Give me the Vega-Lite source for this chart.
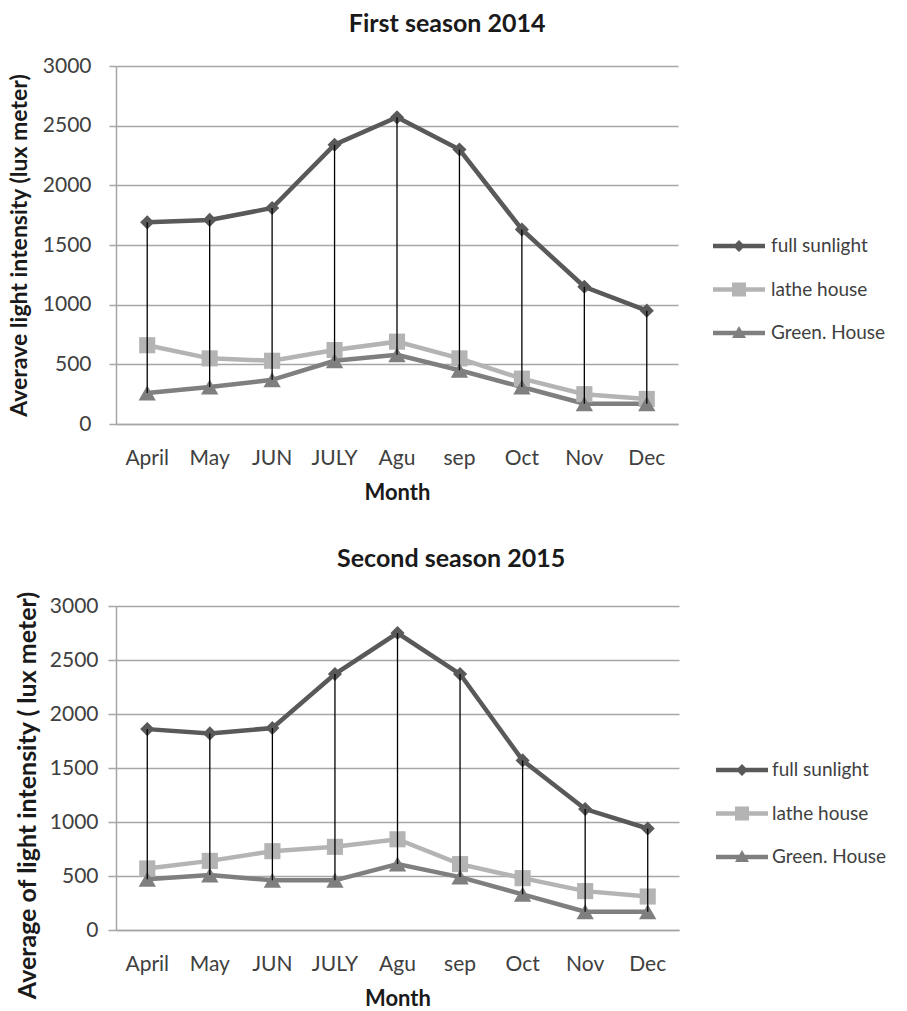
{
  "$schema": "https://vega.github.io/schema/vega-lite/v6.json",
  "padding": {"left": 8, "top": 12, "right": 5, "bottom": 1},
  "background": "white",
  "config": {
    "font": "Lato",
    "view": {"stroke": null},
    "axis": {"labelFont": "Lato", "titleFont": "Lato"},
    "title": {"font": "Lato"}
  },
  "data": {"values": [
    {"season": "2014", "month": "April", "series": "full sunlight", "value": 1690},
    {"season": "2014", "month": "May", "series": "full sunlight", "value": 1710},
    {"season": "2014", "month": "JUN", "series": "full sunlight", "value": 1810},
    {"season": "2014", "month": "JULY", "series": "full sunlight", "value": 2340},
    {"season": "2014", "month": "Agu", "series": "full sunlight", "value": 2570},
    {"season": "2014", "month": "sep", "series": "full sunlight", "value": 2300},
    {"season": "2014", "month": "Oct", "series": "full sunlight", "value": 1630},
    {"season": "2014", "month": "Nov", "series": "full sunlight", "value": 1150},
    {"season": "2014", "month": "Dec", "series": "full sunlight", "value": 950},
    {"season": "2014", "month": "April", "series": "lathe house", "value": 660},
    {"season": "2014", "month": "May", "series": "lathe house", "value": 550},
    {"season": "2014", "month": "JUN", "series": "lathe house", "value": 530},
    {"season": "2014", "month": "JULY", "series": "lathe house", "value": 620},
    {"season": "2014", "month": "Agu", "series": "lathe house", "value": 690},
    {"season": "2014", "month": "sep", "series": "lathe house", "value": 550},
    {"season": "2014", "month": "Oct", "series": "lathe house", "value": 380},
    {"season": "2014", "month": "Nov", "series": "lathe house", "value": 250},
    {"season": "2014", "month": "Dec", "series": "lathe house", "value": 210},
    {"season": "2014", "month": "April", "series": "Green. House", "value": 260},
    {"season": "2014", "month": "May", "series": "Green. House", "value": 310},
    {"season": "2014", "month": "JUN", "series": "Green. House", "value": 370},
    {"season": "2014", "month": "JULY", "series": "Green. House", "value": 530},
    {"season": "2014", "month": "Agu", "series": "Green. House", "value": 580},
    {"season": "2014", "month": "sep", "series": "Green. House", "value": 450},
    {"season": "2014", "month": "Oct", "series": "Green. House", "value": 310},
    {"season": "2014", "month": "Nov", "series": "Green. House", "value": 170},
    {"season": "2014", "month": "Dec", "series": "Green. House", "value": 170},
    {"season": "2015", "month": "April", "series": "full sunlight", "value": 1860},
    {"season": "2015", "month": "May", "series": "full sunlight", "value": 1820},
    {"season": "2015", "month": "JUN", "series": "full sunlight", "value": 1870},
    {"season": "2015", "month": "JULY", "series": "full sunlight", "value": 2370},
    {"season": "2015", "month": "Agu", "series": "full sunlight", "value": 2750},
    {"season": "2015", "month": "sep", "series": "full sunlight", "value": 2370},
    {"season": "2015", "month": "Oct", "series": "full sunlight", "value": 1570},
    {"season": "2015", "month": "Nov", "series": "full sunlight", "value": 1120},
    {"season": "2015", "month": "Dec", "series": "full sunlight", "value": 940},
    {"season": "2015", "month": "April", "series": "lathe house", "value": 570},
    {"season": "2015", "month": "May", "series": "lathe house", "value": 640},
    {"season": "2015", "month": "JUN", "series": "lathe house", "value": 730},
    {"season": "2015", "month": "JULY", "series": "lathe house", "value": 770},
    {"season": "2015", "month": "Agu", "series": "lathe house", "value": 840},
    {"season": "2015", "month": "sep", "series": "lathe house", "value": 610},
    {"season": "2015", "month": "Oct", "series": "lathe house", "value": 480},
    {"season": "2015", "month": "Nov", "series": "lathe house", "value": 360},
    {"season": "2015", "month": "Dec", "series": "lathe house", "value": 310},
    {"season": "2015", "month": "April", "series": "Green. House", "value": 470},
    {"season": "2015", "month": "May", "series": "Green. House", "value": 510},
    {"season": "2015", "month": "JUN", "series": "Green. House", "value": 460},
    {"season": "2015", "month": "JULY", "series": "Green. House", "value": 460},
    {"season": "2015", "month": "Agu", "series": "Green. House", "value": 610},
    {"season": "2015", "month": "sep", "series": "Green. House", "value": 490},
    {"season": "2015", "month": "Oct", "series": "Green. House", "value": 330},
    {"season": "2015", "month": "Nov", "series": "Green. House", "value": 170},
    {"season": "2015", "month": "Dec", "series": "Green. House", "value": 170}
  ]},
  "spacing": 43,
  "resolve": {"scale": {"color": "independent"}, "legend": {"color": "independent"}},
  "vconcat": [
    {
      "title": {"text": "First season 2014", "fontSize": 25, "fontWeight": "bold", "color": "#1a1a1a", "anchor": "middle", "frame": "bounds", "offset": 18},
      "width": 562,
      "height": 358,
      "transform": [{"filter": "datum.season == '2014'"}],
      "encoding": {
        "x": {"field": "month", "type": "ordinal", "sort": ["April", "May", "JUN", "JULY", "Agu", "sep", "Oct", "Nov", "Dec"],
          "axis": {"title": "Month", "labelAngle": 0, "ticks": false, "domainColor": "#a6a6a6", "domainWidth": 1.5, "labelFontSize": 21, "labelColor": "#404040", "labelPadding": 23, "titleFontSize": 22, "titleFontWeight": "bold", "titleColor": "#1a1a1a", "titlePadding": 14}}
      },
      "layer": [
        {
          "mark": {"type": "line", "strokeWidth": 4.5},
          "encoding": {
            "y": {"field": "value", "type": "quantitative", "scale": {"domain": [0, 3000]},
              "axis": {"title": "Averave light intensity (lux meter)", "format": "d", "values": [0, 500, 1000, 1500, 2000, 2500, 3000], "grid": true, "gridColor": "#a6a6a6", "gridWidth": 1.5, "domainColor": "#a6a6a6", "domainWidth": 1.5, "tickColor": "#a6a6a6", "tickWidth": 1.5, "tickSize": 7, "labelFontSize": 21, "labelColor": "#404040", "labelPadding": 18, "titleFontSize": 23, "titleFontWeight": "bold", "titleColor": "#1a1a1a", "titlePadding": 11}},
            "color": {"field": "series", "type": "nominal",
              "scale": {"domain": ["full sunlight", "lathe house", "Green. House"], "range": ["#595959", "#b4b4b4", "#7f7f7f"]},
              "legend": {"title": null, "orient": "none", "legendX": 597, "legendY": 170, "padding": 0, "symbolSize": 400, "labelFontSize": 19, "labelColor": "#404040", "labelOffset": 38, "rowPadding": 23.5, "labelFont": "Lato",
                "encode": {"symbols": {"update": {
                  "shape": {"signal": "datum.value === 'full sunlight' ? 'M-1,-0.22H4.2V0.22H-1Z M1.0,0L1.6,-0.6L2.2,0L1.6,0.6Z' : datum.value === 'lathe house' ? 'M-1,-0.22H4.2V0.22H-1Z M0.9,-0.7H2.3V0.7H0.9Z' : 'M-1,-0.22H4.2V0.22H-1Z M0.9,0.5L1.6,-0.7L2.3,0.5Z'"},
                  "fill": {"signal": "datum.value === 'full sunlight' ? '#595959' : datum.value === 'lathe house' ? '#b4b4b4' : '#7f7f7f'"},
                  "stroke": {"value": "transparent"},
                  "strokeWidth": {"value": 0},
                  "opacity": {"value": 1}
                }}}}}
          }
        },
        {
          "transform": [{"filter": "datum.series == 'lathe house'"}],
          "mark": {"type": "point", "filled": true, "opacity": 1, "shape": "square", "size": 260, "color": "#b4b4b4"},
          "encoding": {"y": {"field": "value", "type": "quantitative"}}
        },
        {
          "transform": [{"filter": "datum.series == 'Green. House'"}],
          "mark": {"type": "point", "filled": true, "opacity": 1, "shape": "triangle-up", "size": 300, "color": "#7f7f7f"},
          "encoding": {"y": {"field": "value", "type": "quantitative"}}
        },
        {
          "transform": [{"filter": "datum.series == 'full sunlight'"}],
          "mark": {"type": "point", "filled": true, "opacity": 1, "shape": "diamond", "size": 200, "color": "#595959"},
          "encoding": {"y": {"field": "value", "type": "quantitative"}}
        },
        {
          "mark": {"type": "rule", "color": "#000000", "strokeWidth": 1.3},
          "encoding": {
            "y": {"aggregate": "min", "field": "value", "type": "quantitative"},
            "y2": {"aggregate": "max", "field": "value"}
          }
        }
      ]
    },
    {
      "title": {"text": "Second season 2015", "fontSize": 25, "fontWeight": "bold", "color": "#1a1a1a", "anchor": "middle", "frame": "bounds", "offset": 19},
      "width": 563,
      "height": 324,
      "transform": [{"filter": "datum.season == '2015'"}],
      "encoding": {
        "x": {"field": "month", "type": "ordinal", "sort": ["April", "May", "JUN", "JULY", "Agu", "sep", "Oct", "Nov", "Dec"],
          "axis": {"title": "Month", "labelAngle": 0, "ticks": false, "domainColor": "#a6a6a6", "domainWidth": 1.5, "labelFontSize": 21, "labelColor": "#404040", "labelPadding": 23, "titleFontSize": 22, "titleFontWeight": "bold", "titleColor": "#1a1a1a", "titlePadding": 14}}
      },
      "layer": [
        {
          "mark": {"type": "line", "strokeWidth": 4.5},
          "encoding": {
            "y": {"field": "value", "type": "quantitative", "scale": {"domain": [0, 3000]},
              "axis": {"title": "Average of light intensity ( lux meter)", "titleY": 189, "format": "d", "values": [0, 500, 1000, 1500, 2000, 2500, 3000], "grid": true, "gridColor": "#a6a6a6", "gridWidth": 1.5, "domainColor": "#a6a6a6", "domainWidth": 1.5, "tickColor": "#a6a6a6", "tickWidth": 1.5, "tickSize": 8, "labelFontSize": 21, "labelColor": "#404040", "labelPadding": 10, "titleFontSize": 25, "titleFontWeight": "bold", "titleColor": "#1a1a1a", "titlePadding": 9}},
            "color": {"field": "series", "type": "nominal",
              "scale": {"domain": ["full sunlight", "lathe house", "Green. House"], "range": ["#595959", "#b4b4b4", "#7f7f7f"]},
              "legend": {"title": null, "orient": "none", "legendX": 600, "legendY": 154, "padding": 0, "symbolSize": 400, "labelFontSize": 19, "labelColor": "#404040", "labelOffset": 36, "rowPadding": 23.5, "labelFont": "Lato",
                "encode": {"symbols": {"update": {
                  "shape": {"signal": "datum.value === 'full sunlight' ? 'M-1,-0.22H4.2V0.22H-1Z M1.0,0L1.6,-0.6L2.2,0L1.6,0.6Z' : datum.value === 'lathe house' ? 'M-1,-0.22H4.2V0.22H-1Z M0.9,-0.7H2.3V0.7H0.9Z' : 'M-1,-0.22H4.2V0.22H-1Z M0.9,0.5L1.6,-0.7L2.3,0.5Z'"},
                  "fill": {"signal": "datum.value === 'full sunlight' ? '#595959' : datum.value === 'lathe house' ? '#b4b4b4' : '#7f7f7f'"},
                  "stroke": {"value": "transparent"},
                  "strokeWidth": {"value": 0},
                  "opacity": {"value": 1}
                }}}}}
          }
        },
        {
          "transform": [{"filter": "datum.series == 'lathe house'"}],
          "mark": {"type": "point", "filled": true, "opacity": 1, "shape": "square", "size": 260, "color": "#b4b4b4"},
          "encoding": {"y": {"field": "value", "type": "quantitative"}}
        },
        {
          "transform": [{"filter": "datum.series == 'Green. House'"}],
          "mark": {"type": "point", "filled": true, "opacity": 1, "shape": "triangle-up", "size": 300, "color": "#7f7f7f"},
          "encoding": {"y": {"field": "value", "type": "quantitative"}}
        },
        {
          "transform": [{"filter": "datum.series == 'full sunlight'"}],
          "mark": {"type": "point", "filled": true, "opacity": 1, "shape": "diamond", "size": 200, "color": "#595959"},
          "encoding": {"y": {"field": "value", "type": "quantitative"}}
        },
        {
          "mark": {"type": "rule", "color": "#000000", "strokeWidth": 1.3},
          "encoding": {
            "y": {"aggregate": "min", "field": "value", "type": "quantitative"},
            "y2": {"aggregate": "max", "field": "value"}
          }
        }
      ]
    }
  ]
}
